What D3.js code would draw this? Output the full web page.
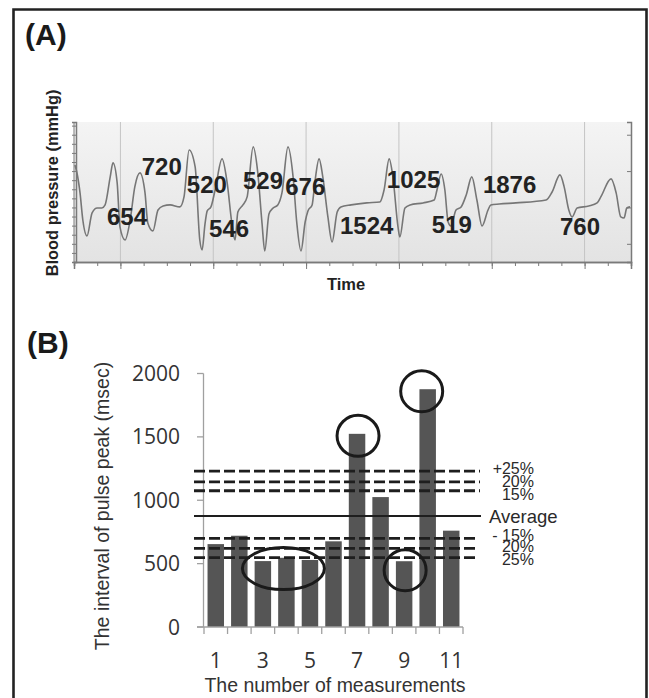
<!DOCTYPE html>
<html>
<head>
<meta charset="utf-8">
<script src="https://cdn.jsdelivr.net/npm/d3@7"></script>
<style>
  body { margin: 0; background: #fff; }
  svg { display: block; }
</style>
</head>
<body>
<svg id="chart" width="649" height="698"></svg>
<script>
// ---- data ----
// pulse-peak intervals (msec), same numbers label panel A and size the bars in B
var measurements = [1, 2, 3, 4, 5, 6, 7, 8, 9, 10, 11]
var intervals = [654, 720, 520, 546, 529, 676, 1524, 1025, 519, 1876, 760]

// blood pressure trace: time (s), pressure (mmHg)
var traceTime = [1.02, 1.06, 1.13, 1.19, 1.28, 1.39, 1.50, 1.60, 1.67, 1.78, 1.84, 1.93, 1.99, 2.10, 2.21,
    2.31, 2.42, 2.53, 2.59, 2.70, 2.81, 2.92, 3.07, 3.28, 3.37, 3.48, 3.61, 3.71, 3.76, 3.82,
    3.87, 3.95, 4.04, 4.19, 4.30, 4.40, 4.47, 4.53, 4.64, 4.73, 4.86, 4.96, 5.05, 5.11, 5.20,
    5.29, 5.39, 5.48, 5.61, 5.72, 5.80, 5.89, 5.98, 6.04, 6.13, 6.19, 6.28, 6.36, 6.47, 6.56,
    6.67, 6.75, 6.97, 7.31, 7.59, 7.68, 7.79, 7.87, 7.98, 8.02, 8.13, 8.24, 8.52, 8.76, 8.82,
    8.91, 8.99, 9.06, 9.12, 9.23, 9.34, 9.45, 9.57, 9.68, 9.79, 9.92, 9.98, 10.16, 10.52, 11.17,
    11.30, 11.47, 11.56, 11.66, 11.73, 11.84, 12.09, 12.27, 12.35, 12.57, 12.68, 12.78, 12.85, 12.91, 12.98]
var tracePressure = [103.4, 99.5, 88.0, 73.1, 64.3, 77.0, 79.7, 79.7, 81.4, 96.8, 104.5, 93.5, 69.3, 62.1, 73.1,
    91.3, 99.0, 88.0, 71.5, 67.1, 78.6, 80.8, 81.4, 80.3, 85.8, 111.6, 102.3, 62.1, 56.6, 70.4,
    78.1, 80.3, 89.6, 106.7, 93.5, 71.5, 62.1, 77.5, 81.4, 85.8, 113.3, 99.0, 71.5, 56.1, 76.4,
    79.7, 81.4, 88.0, 113.3, 96.8, 71.5, 56.1, 72.0, 78.1, 81.4, 94.0, 106.7, 96.8, 74.8, 61.0,
    77.5, 80.3, 81.4, 82.5, 83.0, 89.6, 106.7, 96.8, 69.3, 63.8, 79.7, 81.4, 82.5, 84.1, 89.6,
    98.4, 89.6, 72.0, 69.8, 78.6, 80.3, 86.9, 96.8, 84.1, 69.8, 78.6, 81.4, 81.9, 82.5, 84.1,
    88.5, 97.9, 91.3, 78.6, 74.8, 79.7, 80.8, 82.5, 85.8, 95.7, 88.0, 74.8, 74.2, 79.7, 80.3]

// where each interval number sits on the trace (time, pressure of text baseline start)
var labelTime = [1.71, 2.46, 3.43, 3.91, 4.64, 5.55, 6.73, 7.74, 8.71, 9.81, 11.47]
var labelPressure = [70.4, 97.9, 88.0, 63.8, 90.2, 86.9, 65.4, 90.7, 66.0, 88.0, 64.9]

// reference levels drawn in panel B (msec)
var refLabels = ["+25%", "20%", "15%", "Average", "- 15%", "20%", "25%"]
var refValues = [1230, 1145, 1075, 875, 700, 620, 548]

var yTicksB = [0, 500, 1000, 1500, 2000]
var xTickLabelsB = [1, 3, 5, 7, 9, 11]

// circled measurements: [first, last]
var circled = [[3, 5], [7, 7], [9, 9], [10, 10]]

// ---- drawing ----
var svg = d3.select("#chart")

// outer frame (open at the bottom)
svg.append("path")
    .attr("d", "M13.5,705V9.5H646.5V705")
    .attr("fill", "none")
    .attr("stroke", "#222")
    .attr("stroke-width", 2.6)

svg.append("text").text("(A)")
    .attr("x", 25).attr("y", 45)
    .style("font", "bold 30px 'Liberation Sans', Arial, sans-serif")
    .attr("fill", "#1a1a1a")

svg.append("text").text("(B)")
    .attr("x", 27).attr("y", 353)
    .style("font", "bold 30px 'Liberation Sans', Arial, sans-serif")
    .attr("fill", "#1a1a1a")

// ===== panel A =====
var xA = d3.scaleLinear().domain([1, 13]).range([74, 631])
var yA = d3.scaleLinear().domain([50, 127]).range([262, 122])

var defs = svg.append("defs")
var grad = defs.append("linearGradient").attr("id", "bgA")
    .attr("x1", 0).attr("y1", 0).attr("x2", 0).attr("y2", 1)
grad.append("stop").attr("offset", "0%").attr("stop-color", "#f4f4f4")
grad.append("stop").attr("offset", "100%").attr("stop-color", "#e3e3e3")

var gA = svg.append("g")

gA.append("rect")
    .attr("x", xA(1)).attr("y", yA(127))
    .attr("width", xA(13) - xA(1)).attr("height", yA(50) - yA(127))
    .attr("fill", "url(#bgA)")

// vertical grid every 2 s
gA.selectAll(".gridA")
    .data(d3.range(2, 13, 2))
    .enter().append("line")
    .attr("class", "gridA")
    .attr("x1", function(d) { return xA(d) }).attr("x2", function(d) { return xA(d) })
    .attr("y1", yA(127)).attr("y2", yA(50))
    .attr("stroke", "#c4c4c4").attr("stroke-width", 1)

// axes
var axisColour = "#7a7a7a"
var axBottom = d3.axisBottom(xA).tickValues(d3.range(1.5, 13, 0.5)).tickSize(4).tickFormat("")
gA.append("g").attr("transform", "translate(0," + yA(50) + ")").call(axBottom)
gA.append("g").attr("transform", "translate(0," + yA(50) + ")")
    .call(d3.axisBottom(xA).tickValues(d3.range(2, 13, 2)).tickSize(7).tickFormat(""))

var axLeft = d3.axisLeft(yA).tickValues(d3.range(55, 127, 5)).tickSize(4).tickFormat("")
gA.append("g").attr("transform", "translate(" + (xA(1) + 2) + ",0)").call(axLeft)
gA.append("line")
    .attr("x1", xA(1)).attr("x2", xA(1)).attr("y1", yA(127)).attr("y2", yA(50))

gA.append("g").attr("transform", "translate(" + xA(13) + ",0)")
    .call(d3.axisLeft(yA).tickValues([60, 80, 100, 120]).tickSize(4).tickFormat(""))

gA.selectAll(".domain, line:not(.gridA)")
    .attr("stroke", axisColour)
gA.selectAll(".domain").attr("stroke-width", 1.5)

// the trace
var tracePoints = traceTime.map(function(t, i) { return [t, tracePressure[i]] })
var line = d3.line()
    .x(function(d) { return xA(d[0]) })
    .y(function(d) { return yA(d[1]) })
    .curve(d3.curveMonotoneX)

gA.append("path")
    .datum(tracePoints)
    .attr("d", line)
    .attr("fill", "none")
    .attr("stroke", "#767676")
    .attr("stroke-width", 1.6)

// interval numbers
gA.selectAll(".numA")
    .data(intervals)
    .enter().append("text")
    .attr("class", "numA")
    .attr("x", function(d, i) { return xA(labelTime[i]) })
    .attr("y", function(d, i) { return yA(labelPressure[i]) })
    .text(function(d) { return d })
    .style("font", "bold 24px 'Liberation Sans', Arial, sans-serif")
    .attr("fill", "#222")

gA.append("text").text("Time")
    .attr("x", 346).attr("y", 290)
    .attr("text-anchor", "middle")
    .style("font", "bold 16.5px 'Liberation Sans', Arial, sans-serif")
    .attr("fill", "#222")

gA.append("text").text("Blood pressure (mmHg)")
    .attr("transform", "translate(58,183) rotate(-90)")
    .attr("text-anchor", "middle")
    .style("font", "bold 16.4px 'Liberation Sans', Arial, sans-serif")
    .attr("fill", "#222")

// ===== panel B =====
var xB = d3.scaleBand().domain(measurements).range([204, 463])
    .paddingInner(0.3).paddingOuter(0.15)
var yB = d3.scaleLinear().domain([0, 2000]).range([627, 373.5])

var gB = svg.append("g")

// y axis
gB.append("line")
    .attr("x1", 203.5).attr("x2", 203.5).attr("y1", yB(2000)).attr("y2", yB(0))
    .attr("stroke", "#a0a0a0").attr("stroke-width", 1.3)
gB.selectAll(".ytickB")
    .data(yTicksB)
    .enter().append("line")
    .attr("x1", 197).attr("x2", 203.5)
    .attr("y1", function(d) { return yB(d) }).attr("y2", function(d) { return yB(d) })
    .attr("stroke", "#a0a0a0").attr("stroke-width", 1.3)
gB.selectAll(".ylabB")
    .data(yTicksB)
    .enter().append("text")
    .attr("x", 180)
    .attr("y", function(d) { return yB(d) })
    .attr("dy", "0.36em")
    .attr("text-anchor", "end")
    .text(function(d) { return d })
    .style("font", "21px 'Open Sans', sans-serif")
    .attr("fill", "#333")

// bars
gB.selectAll(".bar")
    .data(intervals)
    .enter().append("rect")
    .attr("class", "bar")
    .attr("x", function(d, i) { return xB(measurements[i]) })
    .attr("width", xB.bandwidth())
    .attr("y", function(d) { return yB(d) })
    .attr("height", function(d) { return yB(0) - yB(d) })
    .attr("fill", "#555")

// x axis
var step = xB.step()
var bandEdges = d3.range(0, measurements.length + 1).map(function(i) { return 204 + i * step })
gB.append("line")
    .attr("x1", 197).attr("x2", 463).attr("y1", yB(0)).attr("y2", yB(0))
    .attr("stroke", "#a0a0a0").attr("stroke-width", 1.3)
gB.selectAll(".xtickB")
    .data(bandEdges)
    .enter().append("line")
    .attr("x1", function(d) { return d }).attr("x2", function(d) { return d })
    .attr("y1", yB(0)).attr("y2", yB(0) + 7)
    .attr("stroke", "#a0a0a0").attr("stroke-width", 1.3)
gB.selectAll(".xlabB")
    .data(xTickLabelsB)
    .enter().append("text")
    .attr("x", function(d) { return xB(d) + xB.bandwidth() / 2 })
    .attr("y", 668)
    .attr("text-anchor", "middle")
    .text(function(d) { return d })
    .style("font", "21px 'Open Sans', sans-serif")
    .attr("fill", "#333")

// reference lines
gB.selectAll(".ref")
    .data(refValues)
    .enter().append("line")
    .attr("class", "ref")
    .attr("x1", 194)
    .attr("x2", function(d, i) { return i < 3 ? 480 : (i == 3 ? 481 : 476) })
    .attr("y1", function(d) { return yB(d) }).attr("y2", function(d) { return yB(d) })
    .attr("stroke", "#1e1e1e")
    .attr("stroke-width", function(d, i) { return i == 3 ? 2 : 2.8 })
    .attr("stroke-dasharray", function(d, i) { return i == 3 ? null : "11,4" })

// labels are stacked a little apart from their lines, as in the figure
var refLabelNudge = [3, 5.5, 9, 6.5, 3, 4, 7.5]
gB.selectAll(".refLab")
    .data(refLabels)
    .enter().append("text")
    .attr("x", function(d) { return d == "Average" ? 489 : 534 })
    .attr("y", function(d, i) { return yB(refValues[i]) + refLabelNudge[i] })
    .attr("text-anchor", function(d) { return d == "Average" ? "start" : "end" })
    .text(function(d) { return d })
    .style("font", function(d) { return (d == "Average" ? "18.5px" : "16px") + " 'Liberation Sans', Arial, sans-serif" })
    .attr("fill", "#2a2a2a")

// circles round the outlying measurements
gB.selectAll(".ring")
    .data(circled)
    .enter().append("ellipse")
    .attr("class", "ring")
    .attr("cx", function(d) {
        var a = xB(d[0]), b = xB(d[1]) + xB.bandwidth()
        var shift = d[0] == 10 ? -6 : (d[0] == 3 ? -3 : 1)
        return (a + b) / 2 + shift
    })
    .attr("cy", function(d) {
        var vals = intervals.slice(d[0] - 1, d[1])
        var m = d3.mean(vals)
        return yB(m) + (m < 800 ? 9 : 2)
    })
    .attr("rx", function(d) { return d[1] > d[0] ? 41 : 21 })
    .attr("ry", function(d) { return d[1] > d[0] ? 21 : 20.5 })
    .attr("fill", "none")
    .attr("stroke", "#1a1a1a")
    .attr("stroke-width", 3)

// axis titles
gB.append("text").text("The number of measurements")
    .attr("x", 335).attr("y", 692)
    .attr("text-anchor", "middle")
    .style("font", "19.5px 'Liberation Sans', Arial, sans-serif")
    .attr("fill", "#333")

gB.append("text").text("The interval of pulse peak (msec)")
    .attr("transform", "translate(109,506) rotate(-90)")
    .attr("text-anchor", "middle")
    .style("font", "19.5px 'Liberation Sans', Arial, sans-serif")
    .attr("fill", "#333")
</script>
</body>
</html>
